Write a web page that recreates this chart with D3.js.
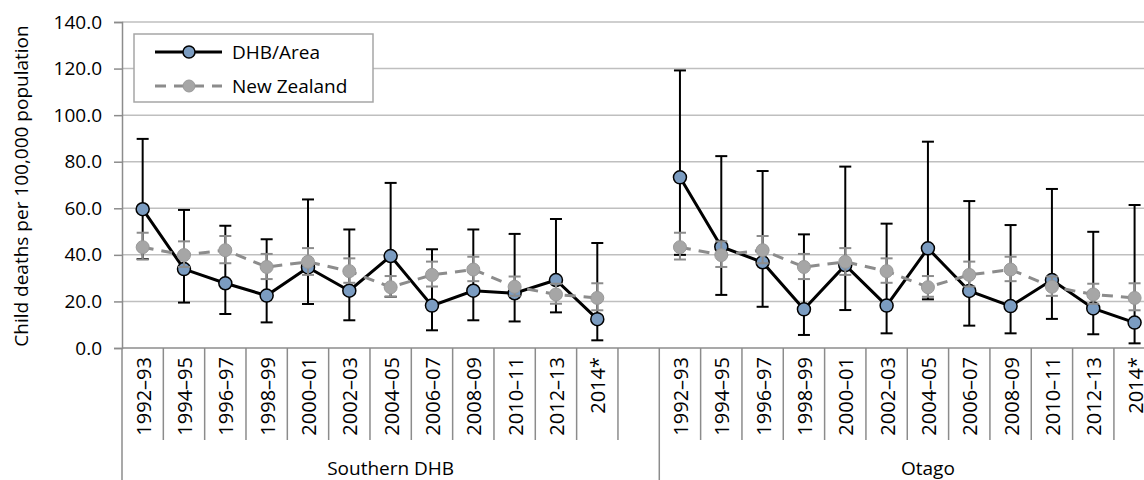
<!DOCTYPE html>
<html>
<head>
<meta charset="utf-8">
<script src="https://cdn.jsdelivr.net/npm/d3@7"></script>
<style>
  body { margin: 0; background: #fff; }
  svg { display: block; font-family: 'Open Sans', sans-serif; }
</style>
</head>
<body>
<div id="chart"></div>
<script>
var periods = ['1992–93', '1994–95', '1996–97', '1998–99', '2000–01', '2002–03',
               '2004–05', '2006–07', '2008–09', '2010–11', '2012–13', '2014*'];
var areas = ['Southern DHB', 'Otago'];

var southernRate = [59.6, 33.9, 27.8, 22.5, 34.6, 24.6, 39.5, 18.2, 24.6, 23.5, 29.2, 12.4];
var southernLow  = [38.2, 19.5, 14.6, 11.0, 18.9, 11.9, 22.0, 7.6, 11.9, 11.4, 15.3, 3.3];
var southernHigh = [89.8, 59.3, 52.5, 46.7, 63.8, 50.9, 70.9, 42.4, 50.9, 49.0, 55.4, 45.1];

var otagoRate = [73.3, 43.5, 36.8, 16.6, 35.6, 18.2, 42.8, 24.5, 18.0, 29.2, 17.0, 10.9];
var otagoLow  = [40.0, 22.8, 17.7, 5.6, 16.3, 6.3, 20.9, 9.6, 6.3, 12.5, 5.9, 2.0];
var otagoHigh = [119.2, 82.4, 76.0, 48.8, 77.9, 53.4, 88.6, 63.1, 52.8, 68.3, 49.9, 61.4];

var nzRate = [43.3, 39.9, 42.0, 34.8, 37.0, 33.0, 26.1, 31.4, 33.7, 26.3, 23.0, 21.5];
var nzLow  = [38.0, 34.8, 36.4, 29.6, 31.4, 28.0, 22.0, 26.4, 28.7, 22.4, 19.0, 16.2];
var nzHigh = [49.5, 45.8, 48.1, 40.4, 42.9, 38.5, 30.9, 37.1, 39.2, 30.7, 27.6, 27.8];

var yTicks = [0, 20, 40, 60, 80, 100, 120, 140];
var legendLabels = ['DHB/Area', 'New Zealand'];

var width = 1144,
    height = 480,
    plotLeft = 122,
    plotTop = 22,
    plotBottom = 348,
    band = 41.33;

var areaValues = {
  'Southern DHB': { rate: southernRate, low: southernLow, high: southernHigh },
  'Otago': { rate: otagoRate, low: otagoLow, high: otagoHigh }
};

// one slot per period plus a blank slot after each area
var slots = [];
areas.forEach(function(a) {
  periods.forEach(function(p) { slots.push(a + '|' + p); });
  slots.push(a + '|');
});

var x = d3.scaleBand()
    .domain(slots)
    .range([plotLeft, plotLeft + band * slots.length]);

var y = d3.scaleLinear()
    .domain([0, 140])
    .range([plotBottom, plotTop]);

function cx(d) { return x(d.key) + x.bandwidth() / 2; }

var dhbSeries = areas.map(function(a) {
  return periods.map(function(p, i) {
    return { key: a + '|' + p, v: areaValues[a].rate[i], lo: areaValues[a].low[i], hi: areaValues[a].high[i] };
  });
});
var nzSeries = areas.map(function(a) {
  return periods.map(function(p, i) {
    return { key: a + '|' + p, v: nzRate[i], lo: nzLow[i], hi: nzHigh[i] };
  });
});

var svg = d3.select('#chart').append('svg')
    .attr('width', width)
    .attr('height', height);

// gridlines
svg.append('g').selectAll('line')
  .data(yTicks.filter(function(d) { return d > 0; }))
  .enter().append('line')
    .attr('x1', plotLeft).attr('x2', width)
    .attr('y1', function(d) { return y(d); })
    .attr('y2', function(d) { return y(d); })
    .style('stroke', '#bfbfbf')
    .style('stroke-width', 1.5);

// y axis
var yAxis = svg.append('g')
    .attr('transform', 'translate(' + plotLeft + ',0)')
    .call(d3.axisLeft(y).tickValues(yTicks).tickFormat(d3.format('.1f')).tickSize(8).tickPadding(12));
yAxis.select('.domain').style('stroke', '#8c8c8c').style('stroke-width', 1.5);
yAxis.selectAll('.tick line').style('stroke', '#8c8c8c').style('stroke-width', 1.5);
yAxis.selectAll('.tick text')
    .style('font-family', "'Open Sans', sans-serif")
    .style('font-size', '19px')
    .style('fill', '#000');

svg.append('text')
    .attr('transform', 'translate(28,186) rotate(-90)')
    .attr('text-anchor', 'middle')
    .style('font-size', '19px')
    .text('Child deaths per 100,000 population');

// x axis: baseline, category separators, labels
svg.append('line')
    .attr('x1', plotLeft).attr('x2', width)
    .attr('y1', plotBottom).attr('y2', plotBottom)
    .style('stroke', '#8c8c8c')
    .style('stroke-width', 1.5);

svg.append('g').selectAll('line')
  .data(slots)
  .enter().append('line')
    .attr('x1', function(d) { return x(d); })
    .attr('x2', function(d) { return x(d); })
    .attr('y1', plotBottom)
    .attr('y2', function(d, i) { return i % (periods.length + 1) === 0 ? height : 440; })
    .style('stroke', '#8c8c8c')
    .style('stroke-width', 1.5);

svg.append('g').selectAll('text')
  .data(slots.filter(function(d) { return d.split('|')[1] !== ''; }))
  .enter().append('text')
    .attr('transform', function(d) {
      return 'translate(' + (x(d) + x.bandwidth() / 2 + 8) + ',357) rotate(-90)';
    })
    .attr('text-anchor', 'end')
    .style('font-size', '20px')
    .text(function(d) { return d.split('|')[1]; });

svg.append('g').selectAll('text')
  .data(areas)
  .enter().append('text')
    .attr('x', function(a) {
      return (x(a + '|' + periods[0]) + x(a + '|') + x.bandwidth()) / 2;
    })
    .attr('y', 475)
    .attr('text-anchor', 'middle')
    .style('font-size', '19px')
    .text(function(d) { return d; });

var line = d3.line()
    .x(cx)
    .y(function(d) { return y(d.v); });

function errorBars(data, color, w, cap) {
  var g = svg.append('g').selectAll('g')
    .data(d3.merge(data))
    .enter().append('g')
      .style('stroke', color)
      .style('stroke-width', w);
  g.append('line')
    .attr('x1', cx).attr('x2', cx)
    .attr('y1', function(d) { return y(d.lo); })
    .attr('y2', function(d) { return y(d.hi); });
  g.append('line')
    .attr('x1', function(d) { return cx(d) - cap; })
    .attr('x2', function(d) { return cx(d) + cap; })
    .attr('y1', function(d) { return y(d.hi); })
    .attr('y2', function(d) { return y(d.hi); });
  g.append('line')
    .attr('x1', function(d) { return cx(d) - cap; })
    .attr('x2', function(d) { return cx(d) + cap; })
    .attr('y1', function(d) { return y(d.lo); })
    .attr('y2', function(d) { return y(d.lo); });
}

// DHB series
svg.append('g').selectAll('path')
  .data(dhbSeries)
  .enter().append('path')
    .attr('d', line)
    .style('fill', 'none')
    .style('stroke', '#000')
    .style('stroke-width', 3);
errorBars(dhbSeries, '#000', 2, 6);
svg.append('g').selectAll('circle')
  .data(d3.merge(dhbSeries))
  .enter().append('circle')
    .attr('cx', cx)
    .attr('cy', function(d) { return y(d.v); })
    .attr('r', 6.5)
    .style('fill', '#7b9cc1')
    .style('stroke', '#000')
    .style('stroke-width', 1.5);

// New Zealand series
svg.append('g').selectAll('path')
  .data(nzSeries)
  .enter().append('path')
    .attr('d', line)
    .style('fill', 'none')
    .style('stroke', '#8c8c8c')
    .style('stroke-width', 3)
    .style('stroke-dasharray', '11,8');
errorBars(nzSeries, '#8c8c8c', 2, 6);
svg.append('g').selectAll('circle')
  .data(d3.merge(nzSeries))
  .enter().append('circle')
    .attr('cx', cx)
    .attr('cy', function(d) { return y(d.v); })
    .attr('r', 6.5)
    .style('fill', '#a6a6a6')
    .style('stroke', '#999')
    .style('stroke-width', 1);

// legend
var legend = svg.append('g');
legend.append('rect')
    .attr('x', 134).attr('y', 34)
    .attr('width', 239).attr('height', 68)
    .style('fill', '#fff')
    .style('stroke', '#a6a6a6')
    .style('stroke-width', 1.5);

var items = legend.selectAll('g.item')
  .data(legendLabels)
  .enter().append('g')
    .attr('class', 'item')
    .attr('transform', function(d, i) { return 'translate(0,' + (52 + i * 34) + ')'; });
items.append('line')
    .attr('x1', 155).attr('x2', 222)
    .style('stroke', function(d, i) { return i ? '#8c8c8c' : '#000'; })
    .style('stroke-width', 3)
    .style('stroke-dasharray', function(d, i) { return i ? '11,8' : null; });
items.append('circle')
    .attr('cx', 189)
    .attr('r', 6)
    .style('fill', function(d, i) { return i ? '#a6a6a6' : '#7b9cc1'; })
    .style('stroke', function(d, i) { return i ? '#999' : '#000'; })
    .style('stroke-width', function(d, i) { return i ? 1 : 1.5; });
items.append('text')
    .attr('x', 232)
    .attr('dy', '0.35em')
    .style('font-size', '19px')
    .text(function(d) { return d; });
</script>
</body>
</html>
